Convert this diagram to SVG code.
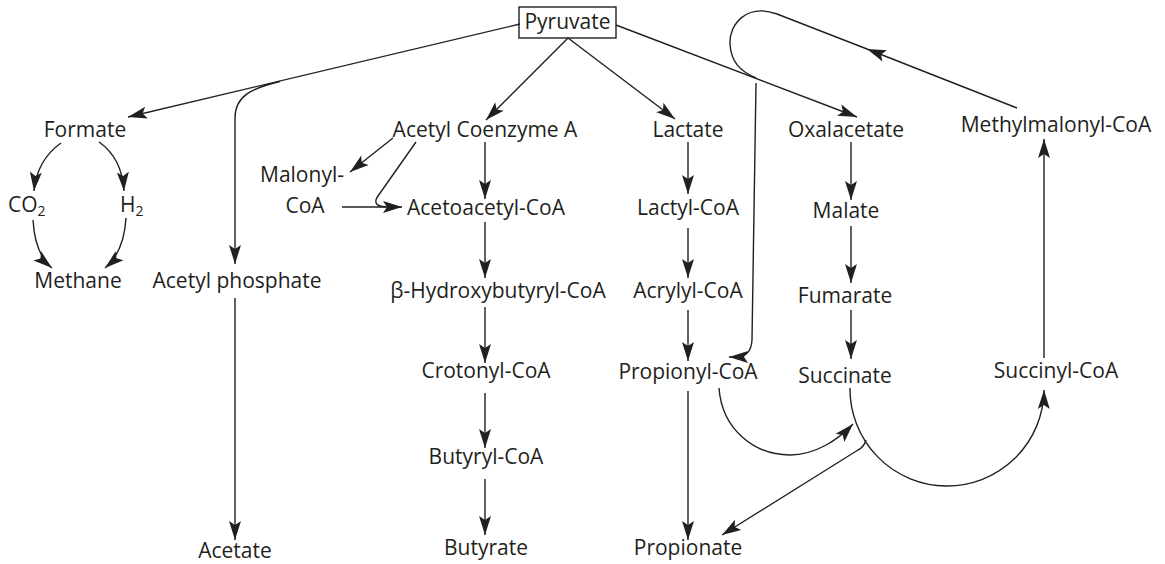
<svg xmlns="http://www.w3.org/2000/svg" width="1165" height="564" viewBox="0 0 1165 564">
<style>
text{font-family:"Open Sans","Noto Sans","Liberation Sans",sans-serif;font-size:21px;fill:#231f20;text-anchor:middle}
.s{text-anchor:start}
.sub{font-size:14px}
#connectors path{fill:none;stroke:#231f20;stroke-width:1.4}
.a{marker-end:url(#ah)}
</style>
<defs>
<marker id="ah" markerUnits="userSpaceOnUse" markerWidth="22" markerHeight="16" viewBox="-20 -8 22 16" refX="0" refY="0" orient="auto">
<path d="M0,0 L-19,-6 L-15,0 L-19,6 Z" fill="#231f20"/>
</marker>
</defs>
<rect width="1165" height="564" fill="#fff"/>
<g id="connectors">
<path class="a" d="M520,24 L128,117"/>
<path class="a" d="M280,81.5 C252,88 235,96 235,118 L235,264"/>
<path class="a" d="M568,38 L486,120"/>
<path class="a" d="M568,38 L675,119"/>
<path class="a" d="M616,25 L857,117"/>
<path class="a" d="M61,143 Q37,160 34,191"/>
<path class="a" d="M99,142 Q122,158 124,191"/>
<path class="a" d="M33,220 Q35,254 52,268"/>
<path class="a" d="M126,218 Q124,252 105,268"/>
<path class="a" d="M235,298 L235,540"/>
<path class="a" d="M393,138 L350,172"/>
<path d="M416,142 L378,196 Q371,206 386,207"/>
<path class="a" d="M342,207 L402,207"/>
<path class="a" d="M485,142 L485,199"/>
<path class="a" d="M485,222 L485,278"/>
<path class="a" d="M485,307 L485,363"/>
<path class="a" d="M485,393 L485,448"/>
<path class="a" d="M485,479 L485,535"/>
<path class="a" d="M688,142 L688,194"/>
<path class="a" d="M688,228 L688,278"/>
<path class="a" d="M688,310 L688,361"/>
<path class="a" d="M688,391 L688,540"/>
<path class="a" d="M756,83 L752,340 Q751,357 736,357 L729,357"/>
<path class="a" d="M851,142 L851,200"/>
<path class="a" d="M851,226 L851,283"/>
<path class="a" d="M851,310 L851,359"/>
<path class="a" d="M719,388 C722,430 755,455 790,455 C815,455 838,440 853,424"/>
<path class="a" d="M850,388 A97,97 0 0 0 1044,390"/>
<path class="a" d="M866,440 Q864,447 858,450 L722,535"/>
<path class="a" d="M1044,358 L1044,139"/>
<path class="a" d="M1017,108 L867,49"/>
<path d="M867,49 L777,14 C747,3 729,24 730,44 C731,62 740,71 756,78"/>
</g>
<g id="pyruvate"><rect x="519" y="7" width="97" height="31" fill="none" stroke="#231f20" stroke-width="1.4"/><text x="567.5" y="29">Pyruvate</text></g>
<g id="formate"><text x="85" y="137">Formate</text></g>
<g id="co2"><text class="s" x="8" y="212">CO<tspan class="sub" dy="4">2</tspan></text></g>
<g id="h2"><text class="s" x="120" y="212">H<tspan class="sub" dy="4">2</tspan></text></g>
<g id="methane"><text x="78" y="288">Methane</text></g>
<g id="acetyl-phosphate"><text x="237" y="288">Acetyl phosphate</text></g>
<g id="acetate"><text x="235" y="558">Acetate</text></g>
<g id="acetyl-coa"><text x="485" y="137">Acetyl Coenzyme A</text></g>
<g id="malonyl-coa"><text x="302" y="182">Malonyl-</text><text x="305" y="213">CoA</text></g>
<g id="acetoacetyl-coa"><text x="486" y="215">Acetoacetyl-CoA</text></g>
<g id="hydroxybutyryl-coa"><text x="498" y="298">β-Hydroxybutyryl-CoA</text></g>
<g id="crotonyl-coa"><text x="486" y="378">Crotonyl-CoA</text></g>
<g id="butyryl-coa"><text x="486" y="464">Butyryl-CoA</text></g>
<g id="butyrate"><text x="486" y="555">Butyrate</text></g>
<g id="lactate"><text x="688" y="137">Lactate</text></g>
<g id="lactyl-coa"><text x="688" y="215">Lactyl-CoA</text></g>
<g id="acrylyl-coa"><text x="688" y="298">Acrylyl-CoA</text></g>
<g id="propionyl-coa"><text x="688" y="379">Propionyl-CoA</text></g>
<g id="propionate"><text x="688" y="555">Propionate</text></g>
<g id="oxalacetate"><text x="846" y="137">Oxalacetate</text></g>
<g id="malate"><text x="846" y="218">Malate</text></g>
<g id="fumarate"><text x="845" y="303">Fumarate</text></g>
<g id="succinate"><text x="845" y="383">Succinate</text></g>
<g id="succinyl-coa"><text x="1056" y="378">Succinyl-CoA</text></g>
<g id="methylmalonyl-coa"><text x="1056" y="132">Methylmalonyl-CoA</text></g>
</svg>
